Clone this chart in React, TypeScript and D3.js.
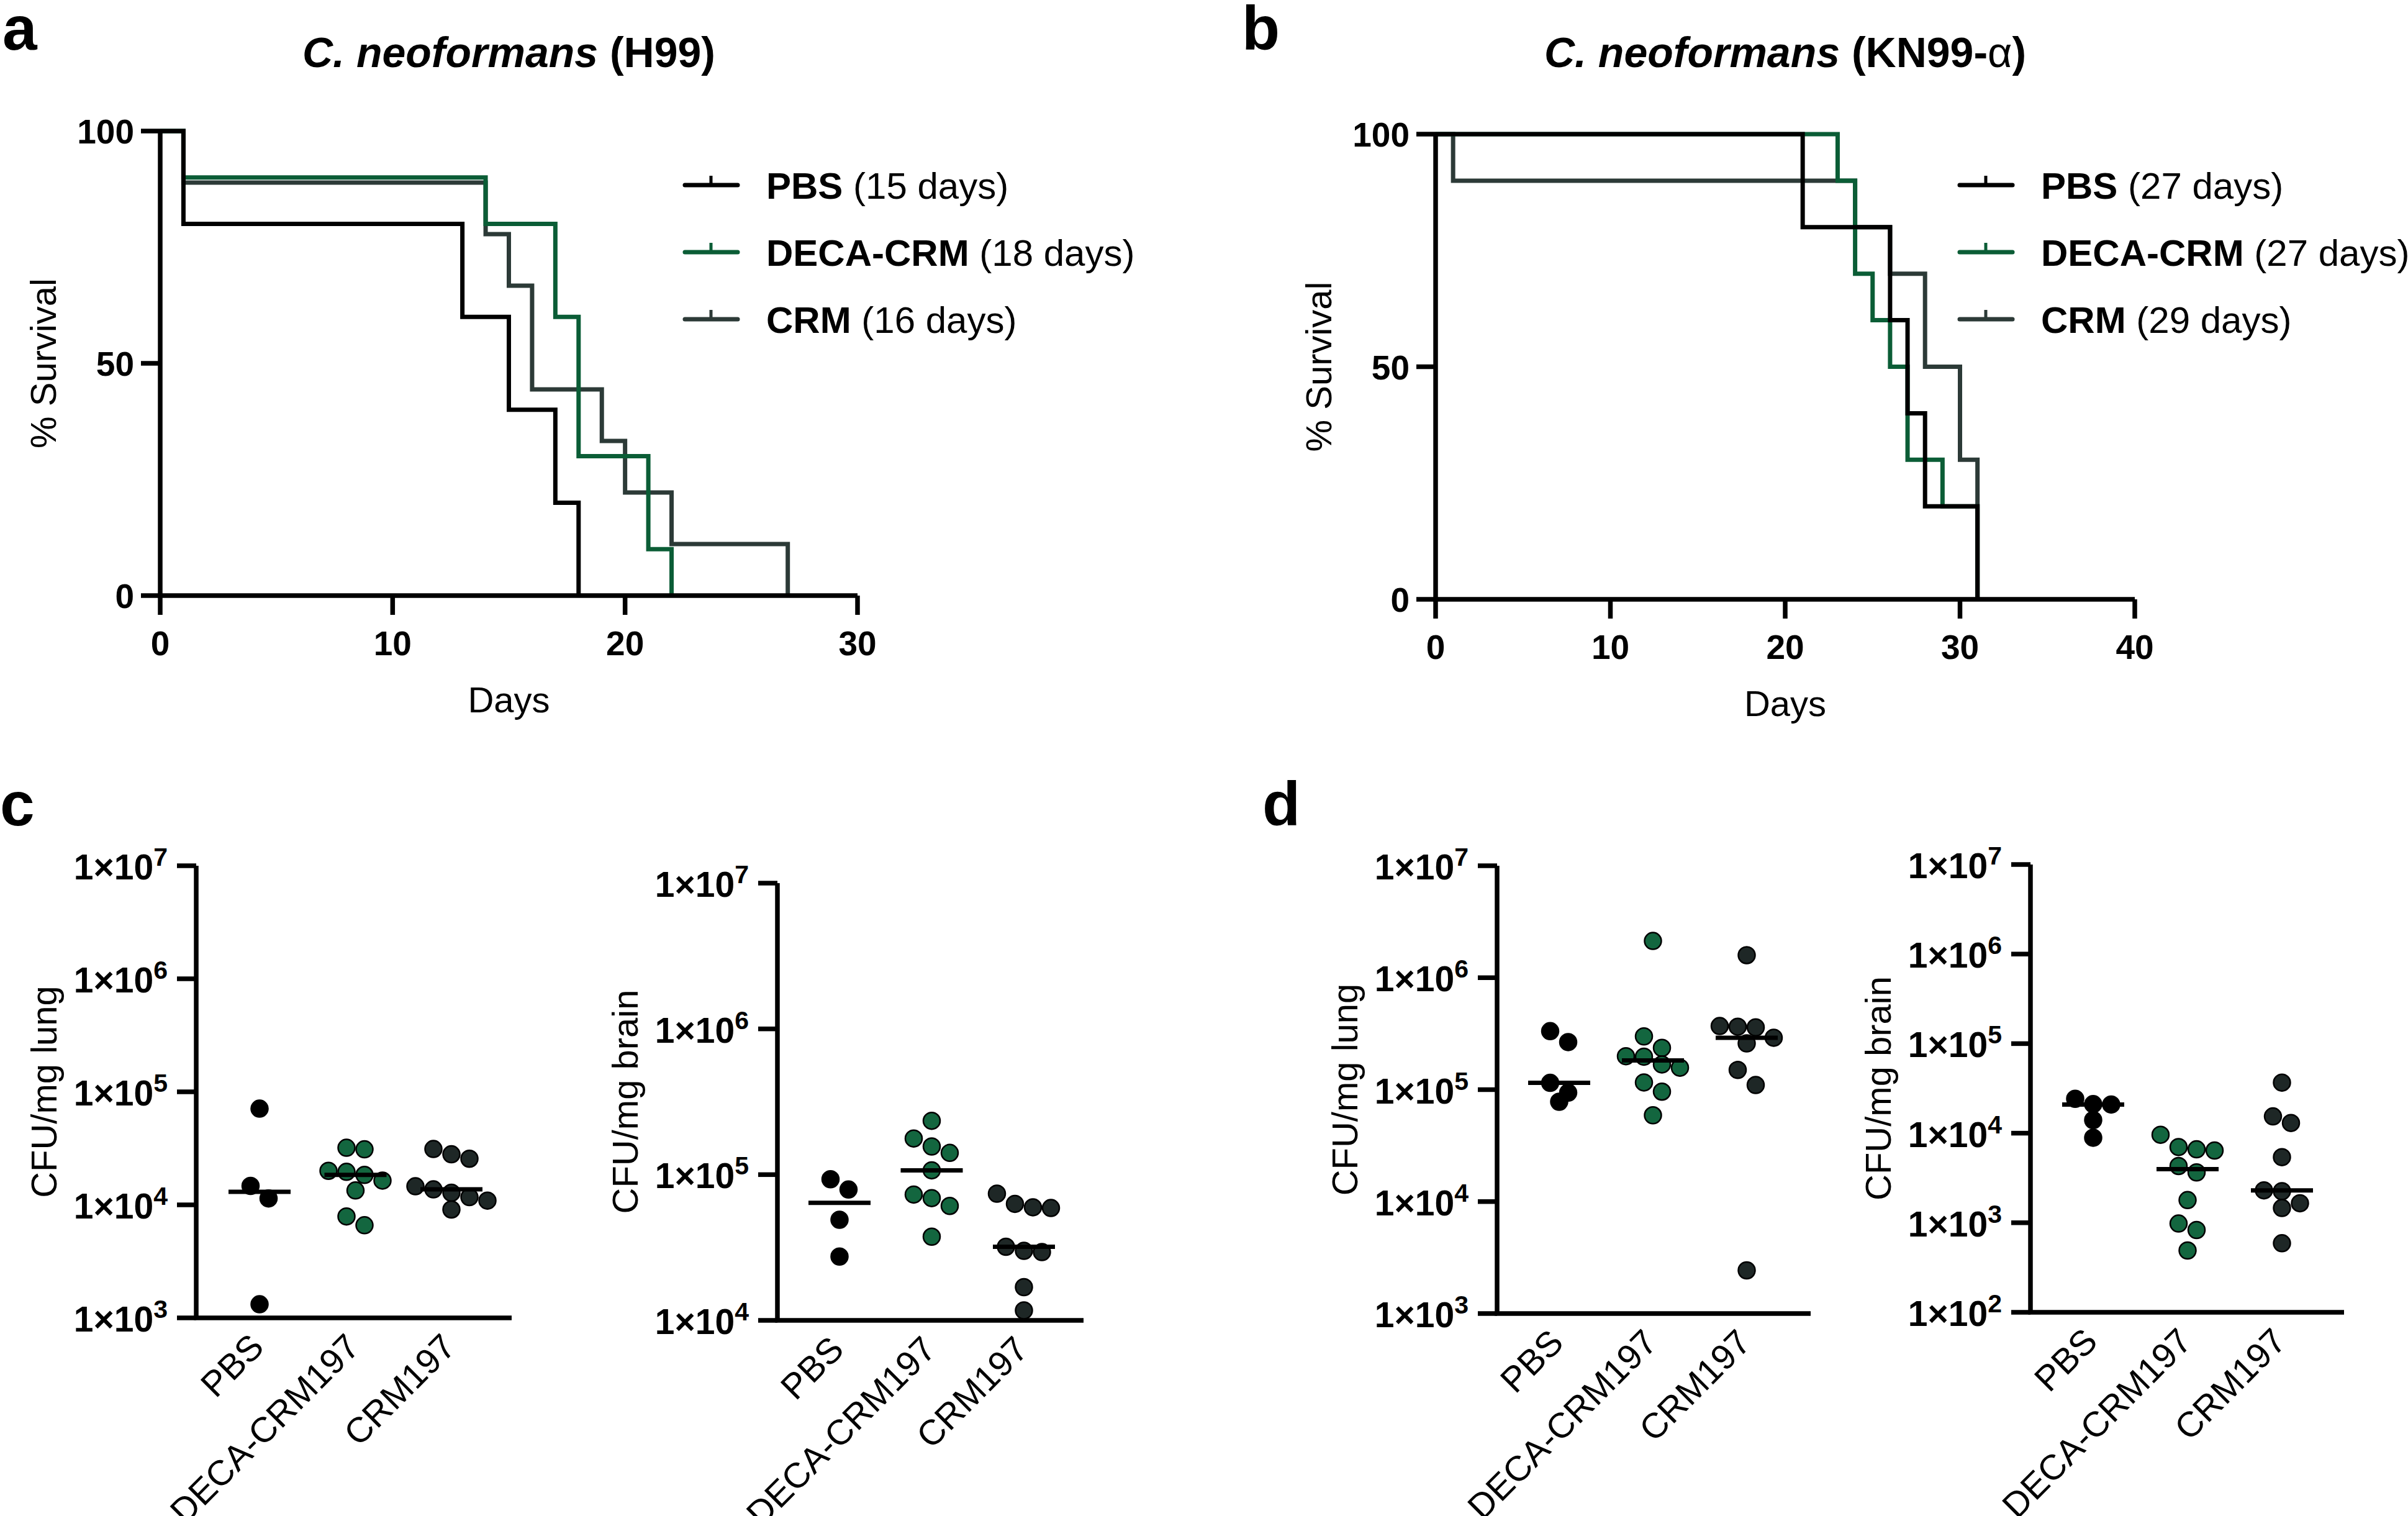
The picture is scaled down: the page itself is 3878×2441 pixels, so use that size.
import React from 'react';
import * as d3 from 'd3';

const FONT = '"Liberation Sans", Arial, Helvetica, sans-serif';
const BLACK = '#000000';
const GREEN = '#0b5d36';
const SLATE = '#2c3a37';
const DOT_GREEN = '#13663f';
const DOT_SLATE = '#1e2726';

// Kaplan-Meier steps, [day, % survival]
// a: C. neoformans H99
const h99PBS: [number, number][] = [[0, 100], [1, 80], [13, 60], [15, 40], [17, 20], [18, 0]];
const h99DECA: [number, number][] = [[0, 100], [1, 90], [14, 80], [17, 60], [18, 30], [21, 10], [22, 0]];
const h99CRM: [number, number][] = [[0, 100], [1, 88.9], [14, 77.8], [15, 66.7], [16, 44.4], [19, 33.3], [20, 22.2], [22, 11.1], [27, 0]];
// b: C. neoformans KN99-alpha
const kn99PBS: [number, number][] = [[0, 100], [21, 80], [26, 60], [27, 40], [28, 20], [31, 0]];
const kn99DECA: [number, number][] = [[0, 100], [23, 90], [24, 70], [25, 60], [26, 50], [27, 30], [29, 20], [31, 0]];
const kn99CRM: [number, number][] = [[0, 100], [1, 90], [24, 80], [26, 70], [28, 50], [30, 30], [31, 0]];

const survivalGroups = ['PBS', 'DECA-CRM', 'CRM'];
const h99Medians = [15, 18, 16];
const kn99Medians = [27, 27, 29];
const survivalTicksY = [0, 50, 100];

// CFU per mg tissue
const cfuGroups = ['PBS', 'DECA-CRM197', 'CRM197'];
const cLungPBS = [7.1e4, 1.47e4, 1.14e4, 1.32e3];
const cLungDECA = [3.2e4, 3.1e4, 2.0e4, 1.96e4, 1.84e4, 1.64e4, 1.34e4, 7.9e3, 6.6e3];
const cLungCRM = [3.12e4, 2.8e4, 2.56e4, 1.46e4, 1.37e4, 1.28e4, 1.17e4, 1.09e4, 9.1e3];
const cBrainPBS = [9.3e4, 7.9e4, 4.9e4, 2.74e4];
const cBrainDECA = [2.34e5, 1.77e5, 1.56e5, 1.41e5, 1.07e5, 7.3e4, 6.9e4, 6.1e4, 3.75e4];
const cBrainCRM = [7.4e4, 6.3e4, 5.97e4, 5.9e4, 3.2e4, 3.0e4, 2.94e4, 1.69e4, 1.17e4];
const dLungPBS = [3.33e5, 2.66e5, 1.15e5, 9.4e4, 7.8e4];
const dLungDECA = [2.13e6, 2.99e5, 2.36e5, 1.99e5, 1.97e5, 1.68e5, 1.57e5, 1.16e5, 9.6e4, 5.9e4];
const dLungCRM = [1.59e6, 3.7e5, 3.65e5, 3.6e5, 2.91e5, 2.59e5, 1.5e5, 1.1e5, 2.43e3];
const dBrainPBS = [2.42e4, 2.11e4, 2.09e4, 1.4e4, 8.9e3];
const dBrainDECA = [9.6e3, 7.0e3, 6.6e3, 6.4e3, 4.3e3, 3.65e3, 1.79e3, 9.8e2, 8.3e2, 4.9e2];
const dBrainCRM = [3.67e4, 1.54e4, 1.3e4, 5.4e3, 2.3e3, 2.25e3, 1.65e3, 1.46e3, 5.9e2];

const AXIS_W = 7.5;
const TICK = 31;

function SurvivalPanel({ letter, letterX, title, x0, x1, yTop, yBottom, xMax, series, medians, legendX }: any) {
  const x = d3.scaleLinear().domain([0, xMax]).range([x0, x1]);
  const y = d3.scaleLinear().domain([0, 100]).range([yBottom, yTop]);
  const line = d3.line<[number, number]>()
    .x(d => x(d[0]))
    .y(d => y(d[1]))
    .curve(d3.curveStepAfter);
  const colors = [BLACK, GREEN, SLATE];
  const xTicks = d3.range(0, xMax + 1, 10);
  // draw order: CRM under DECA under PBS
  const order = [2, 1, 0];

  return (
    <g fontFamily={FONT}>
      <text x={letterX} y={80} fontSize={100} fontWeight="bold">{letter}</text>
      <text x={(x0 + x1) / 2} y={108} fontSize={68} fontWeight="bold" textAnchor="middle">{title}</text>

      {order.map(i => (
        <path key={i} d={line(series[i]) || ''} fill="none" stroke={colors[i]} strokeWidth={7} strokeLinejoin="miter" />
      ))}

      {/* axes */}
      <path d={`M${x0},${yTop} V${yBottom} H${x1}`} fill="none" stroke={BLACK} strokeWidth={AXIS_W} />
      {survivalTicksY.map(t => (
        <g key={t}>
          <line x1={x0 - TICK} x2={x0} y1={y(t)} y2={y(t)} stroke={BLACK} strokeWidth={AXIS_W} />
          <text x={x0 - 42} y={y(t) + 20} fontSize={55} fontWeight="bold" textAnchor="end">{t}</text>
        </g>
      ))}
      {xTicks.map(t => (
        <g key={t}>
          <line x1={x(t)} x2={x(t)} y1={yBottom} y2={yBottom + TICK} stroke={BLACK} strokeWidth={AXIS_W} />
          <text x={x(t)} y={yBottom + 96} fontSize={55} fontWeight="bold" textAnchor="middle">{t}</text>
        </g>
      ))}
      <text x={(x0 + x1) / 2} y={yBottom + 188} fontSize={58} textAnchor="middle">Days</text>
      <text transform={`translate(${x0 - 168},${(yTop + yBottom) / 2}) rotate(-90)`} fontSize={58} textAnchor="middle">% Survival</text>

      {/* legend */}
      {survivalGroups.map((g, i) => {
        const ly = 298 + i * 108;
        return (
          <g key={g}>
            <line x1={legendX} x2={legendX + 85} y1={ly} y2={ly} stroke={colors[i]} strokeWidth={7} strokeLinecap="round" />
            <line x1={legendX + 42} x2={legendX + 42} y1={ly} y2={ly - 15} stroke={colors[i]} strokeWidth={5} />
            <text x={legendX + 131} y={ly + 22} fontSize={60}>
              <tspan fontWeight="bold">{g}</tspan>
              {` (${medians[i]} days)`}
            </text>
          </g>
        );
      })}
    </g>
  );
}

function swarmOffsets(values: number[], y: (v: number) => number, step: number) {
  const idx = values.map((_, i) => i).sort((a, b) => values[b] - values[a]);
  const rows: number[][] = [];
  let cur: number[] = [];
  let startY = 0;
  idx.forEach(i => {
    const py = y(values[i]);
    if (cur.length && py - startY > step - 3) {
      rows.push(cur);
      cur = [];
    }
    if (!cur.length) startY = py;
    cur.push(i);
  });
  if (cur.length) rows.push(cur);
  const off = new Array(values.length).fill(0);
  rows.forEach(r => r.forEach((i, k) => { off[i] = (k - (r.length - 1) / 2) * step; }));
  return off;
}

function CfuPanel({ letter, letterX, axisX, yTop, yBottom, xEnd, catStart, catEnd, expLo, expHi, label, series }: any) {
  const y = d3.scaleLog().domain([10 ** expLo, 10 ** expHi]).range([yBottom, yTop]);
  const x = d3.scalePoint().domain(cfuGroups).range([catStart, catEnd]);
  const fills = [BLACK, DOT_GREEN, DOT_SLATE];
  const exps = d3.range(expLo, expHi + 1);
  const r = 13.5;

  return (
    <g fontFamily={FONT}>
      {letter && <text x={letterX} y={1329} fontSize={100} fontWeight="bold">{letter}</text>}

      <path d={`M${axisX},${yTop} V${yBottom} H${xEnd}`} fill="none" stroke={BLACK} strokeWidth={AXIS_W} />
      {exps.map(e => (
        <g key={e}>
          <line x1={axisX - TICK} x2={axisX} y1={y(10 ** e)} y2={y(10 ** e)} stroke={BLACK} strokeWidth={AXIS_W} />
          <text x={axisX - 46} y={y(10 ** e) + 22} fontSize={57} fontWeight="bold" textAnchor="end">
            1×10<tspan dy={-22} fontSize={41}>{e}</tspan>
          </text>
        </g>
      ))}
      <text transform={`translate(${axisX - 225},${(yTop + yBottom) / 2}) rotate(-90)`} fontSize={58} textAnchor="middle">{label}</text>

      {series.map((vals: number[], gi: number) => {
        const cx = x(cfuGroups[gi]) as number;
        const off = swarmOffsets(vals, v => y(v), 29);
        return (
          <g key={gi}>
            {vals.map((v, i) => (
              <circle key={i} cx={cx + off[i]} cy={y(v)} r={r} fill={fills[gi]} stroke={BLACK} strokeWidth={2.5} />
            ))}
          </g>
        );
      })}
      {series.map((vals: number[], gi: number) => {
        const cx = x(cfuGroups[gi]) as number;
        const m = d3.median(vals) as number;
        return <line key={gi} x1={cx - 50} x2={cx + 50} y1={y(m)} y2={y(m)} stroke={BLACK} strokeWidth={7} />;
      })}

      {cfuGroups.map(g => {
        const cx = x(g) as number;
        return (
          <text key={g} transform={`translate(${cx + 10},${yBottom + 50}) rotate(-45)`} fontSize={57} textAnchor="end">{g}</text>
        );
      })}
    </g>
  );
}

export default function App() {
  return (
    <svg width={3878} height={2441} style={{ position: 'absolute', left: 0, top: 0, background: '#fff' }}>
      <rect width={3878} height={2441} fill="#fff" />
      <SurvivalPanel
        letter="a" letterX={4}
        title={<><tspan fontStyle="italic">C. neoformans</tspan> (H99)</>}
        x0={258} x1={1381} yTop={211} yBottom={959} xMax={30}
        series={[h99PBS, h99DECA, h99CRM]} medians={h99Medians} legendX={1103}
      />
      <SurvivalPanel
        letter="b" letterX={2000}
        title={<><tspan fontStyle="italic">C. neoformans</tspan> (KN99-<tspan fontWeight="normal">α</tspan>)</>}
        x0={2312} x1={3438} yTop={216} yBottom={965} xMax={40}
        series={[kn99PBS, kn99DECA, kn99CRM]} medians={kn99Medians} legendX={3156}
      />
      <CfuPanel
        letter="c" letterX={0}
        axisX={316} yTop={1394} yBottom={2122} xEnd={824} catStart={418} catEnd={727}
        expLo={3} expHi={7} label="CFU/mg lung" series={[cLungPBS, cLungDECA, cLungCRM]}
      />
      <CfuPanel
        axisX={1252} yTop={1422} yBottom={2126} xEnd={1745} catStart={1352} catEnd={1649}
        expLo={4} expHi={7} label="CFU/mg brain" series={[cBrainPBS, cBrainDECA, cBrainCRM]}
      />
      <CfuPanel
        letter="d" letterX={2033}
        axisX={2411} yTop={1394} yBottom={2115} xEnd={2916} catStart={2511} catEnd={2813}
        expLo={3} expHi={7} label="CFU/mg lung" series={[dLungPBS, dLungDECA, dLungCRM]}
      />
      <CfuPanel
        axisX={3270} yTop={1392} yBottom={2113} xEnd={3775} catStart={3371} catEnd={3675}
        expLo={2} expHi={7} label="CFU/mg brain" series={[dBrainPBS, dBrainDECA, dBrainCRM]}
      />
    </svg>
  );
}
